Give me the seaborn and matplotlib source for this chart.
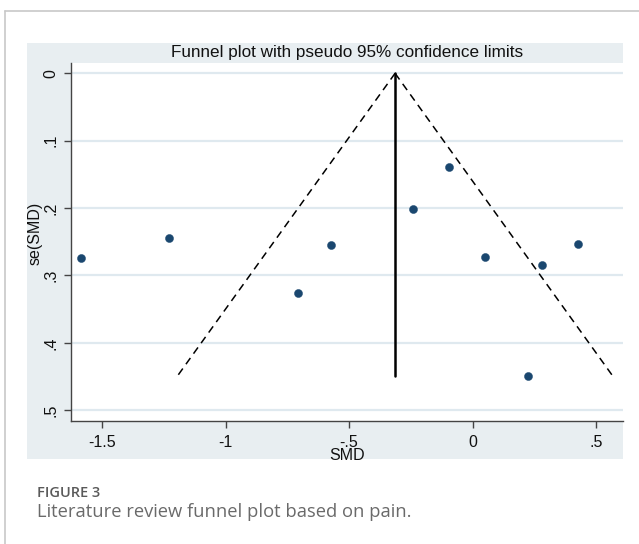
import matplotlib
matplotlib.use("Agg")
import matplotlib.pyplot as plt
import seaborn as sns
import pandas as pd
from matplotlib.patches import Rectangle
from matplotlib.lines import Line2D

# ---- data ----
smd = [-1.583, -1.230, -0.708, -0.573, -0.243, -0.095, 0.051, 0.225, 0.280, 0.426]
se_smd = [0.2747, 0.2441, 0.3267, 0.2554, 0.2011, 0.1387, 0.2723, 0.4485, 0.2842, 0.2530]
pooled_smd = -0.314
funnel_se = [0.0, 0.4485]
funnel_left_x = [-0.314, -1.193]
funnel_right_x = [-0.314, 0.565]
x_ticks = [-1.5, -1.0, -0.5, 0.0, 0.5]
x_tick_labels = ["-1.5", "-1", "-.5", "0", ".5"]
y_ticks = [0.0, 0.1, 0.2, 0.3, 0.4, 0.5]
y_tick_labels = ["0", ".1", ".2", ".3", ".4", ".5"]
title = "Funnel plot with pseudo 95% confidence limits"
caption_head = "FIGURE 3"
caption_text = "Literature review funnel plot based on pain."

sns.set_theme(style="white")
plt.rcParams["font.family"] = ["Liberation Sans", "DejaVu Sans"]

W, H = 639, 544
fig = plt.figure(figsize=(W / 100, H / 100), dpi=100)
fig.patch.set_facecolor("white")

def fx(px):
    return px / W

def fy(py):
    return 1 - py / H

# card border (top and left)
fig.add_artist(Line2D([fx(4.7), 1.0], [fy(10.5), fy(10.5)], color="#c8c8c8", lw=1.2))
fig.add_artist(Line2D([fx(4.7), fx(4.7)], [fy(10.5), 0.0], color="#c8c8c8", lw=1.2))

# Stata graph region background
fig.add_artist(Rectangle((fx(27), fy(459)), fx(623) - fx(27), fy(43) - fy(459),
                         facecolor="#e8eef1", edgecolor="none", zorder=0))

# plot axes
left, right, top, bottom = 71, 623, 63, 421
ax = fig.add_axes([fx(left), fy(bottom), fx(right) - fx(left), fy(top) - fy(bottom)])
ax.set_facecolor("white")

df = pd.DataFrame({"SMD": smd, "se": se_smd})

# grid lines
for yt in y_ticks:
    ax.axhline(yt, color="#dfe9ef", lw=1.6, zorder=0)

# funnel lines
ax.plot(funnel_left_x, funnel_se, color="black", lw=1.1, ls=(0, (5, 3.5)), zorder=2)
ax.plot(funnel_right_x, funnel_se, color="black", lw=1.1, ls=(0, (5, 3.5)), zorder=2)
ax.plot([pooled_smd, pooled_smd], funnel_se, color="black", lw=1.8, zorder=2)

sns.scatterplot(data=df, x="SMD", y="se", ax=ax, color="#1a476f", s=34,
                edgecolor="#1a476f", linewidth=0.3, zorder=3, legend=False)

ax.set_xlim(-1.625, 0.608)
ax.set_ylim(0.516, -0.0153)

ax.set_xticks(x_ticks)
ax.set_xticklabels(x_tick_labels, fontsize=11.5, color="#111111")
ax.set_yticks(y_ticks)
ax.set_yticklabels(y_tick_labels, fontsize=11.5, color="#111111", rotation=90, va="center")

for side in ["top", "right"]:
    ax.spines[side].set_visible(False)
for side in ["left", "bottom"]:
    ax.spines[side].set_color("#444444")
    ax.spines[side].set_linewidth(1.0)
ax.tick_params(axis="both", which="major", direction="out", length=5, width=1.0,
               color="#444444", left=True, bottom=True)
ax.tick_params(axis="x", pad=5)
ax.tick_params(axis="y", pad=4)

ax.set_xlabel("SMD", fontsize=11.5, color="#111111", labelpad=0)
ax.set_ylabel("se(SMD)", fontsize=11.5, color="#111111", labelpad=4)
aw = fx(right) - fx(left)
ah = fy(top) - fy(bottom)
ax.yaxis.set_label_coords((fx(35) - fx(left)) / aw, (fy(233) - fy(bottom)) / ah)
ax.xaxis.set_label_coords((fx(347) - fx(left)) / aw, (fy(456) - fy(bottom)) / ah)
ax.xaxis.label.set_va("center")
ax.yaxis.label.set_va("center")

fig.text(fx(347), fy(52.5), title, ha="center", va="center", fontsize=12.3, color="#111111")

fig.text(fx(37), fy(493), caption_head, ha="left", va="center", fontsize=10.5,
         color="#5a5a5a", family=["Open Sans", "DejaVu Sans"], fontweight="semibold")
fig.text(fx(37), fy(512), caption_text, ha="left", va="center", fontsize=13.2,
         color="#6a6a6a", family=["Open Sans", "DejaVu Sans"])

fig.savefig("out.png", dpi=100)
